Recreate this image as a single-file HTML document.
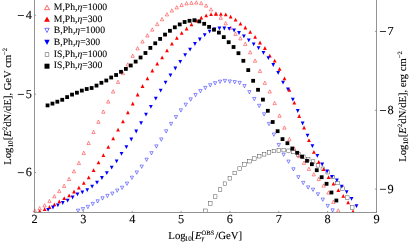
<!DOCTYPE html>
<html><head><meta charset="utf-8"><title>plot</title>
<style>
html,body{margin:0;padding:0;background:#fff;}
body{width:411px;height:244px;overflow:hidden;position:relative;}
svg{display:block;position:absolute;left:0;top:0;will-change:transform;font-family:"Liberation Serif",serif;}
text{fill:#000;text-rendering:geometricPrecision;stroke:#000;stroke-width:0.1px;}
</style></head><body>
<svg width="411" height="244" viewBox="0 0 411 244">
<rect width="411" height="244" fill="#fff"/>
<defs><clipPath id="c"><rect x="0" y="0" width="411" height="212.2"/></clipPath></defs>
<g clip-path="url(#c)">
<g><path d="M33.14 212.15L36.44 212.15L34.79 208.85Z" fill="none" stroke="#f00" stroke-width="0.45"/><path d="M38.04 209.85L41.34 209.85L39.69 206.55Z" fill="none" stroke="#f00" stroke-width="0.45"/><path d="M42.93 206.95L46.23 206.95L44.58 203.65Z" fill="none" stroke="#f00" stroke-width="0.45"/><path d="M47.83 202.65L51.13 202.65L49.48 199.35Z" fill="none" stroke="#f00" stroke-width="0.45"/><path d="M52.72 197.85L56.02 197.85L54.37 194.55Z" fill="none" stroke="#f00" stroke-width="0.45"/><path d="M57.62 192.65L60.92 192.65L59.27 189.35Z" fill="none" stroke="#f00" stroke-width="0.45"/><path d="M62.51 187.45L65.81 187.45L64.16 184.15Z" fill="none" stroke="#f00" stroke-width="0.45"/><path d="M67.41 180.55L70.71 180.55L69.06 177.25Z" fill="none" stroke="#f00" stroke-width="0.45"/><path d="M72.30 172.85L75.60 172.85L73.95 169.55Z" fill="none" stroke="#f00" stroke-width="0.45"/><path d="M77.20 164.55L80.50 164.55L78.85 161.25Z" fill="none" stroke="#f00" stroke-width="0.45"/><path d="M82.09 154.45L85.39 154.45L83.74 151.15Z" fill="none" stroke="#f00" stroke-width="0.45"/><path d="M86.99 144.55L90.29 144.55L88.64 141.25Z" fill="none" stroke="#f00" stroke-width="0.45"/><path d="M91.88 133.55L95.18 133.55L93.53 130.25Z" fill="none" stroke="#f00" stroke-width="0.45"/><path d="M96.78 123.35L100.08 123.35L98.43 120.05Z" fill="none" stroke="#f00" stroke-width="0.45"/><path d="M101.67 113.25L104.97 113.25L103.32 109.95Z" fill="none" stroke="#f00" stroke-width="0.45"/><path d="M106.57 103.15L109.87 103.15L108.22 99.85Z" fill="none" stroke="#f00" stroke-width="0.45"/><path d="M111.46 93.05L114.76 93.05L113.11 89.75Z" fill="none" stroke="#f00" stroke-width="0.45"/><path d="M116.36 83.45L119.66 83.45L118.01 80.15Z" fill="none" stroke="#f00" stroke-width="0.45"/><path d="M121.25 74.65L124.55 74.65L122.90 71.35Z" fill="none" stroke="#f00" stroke-width="0.45"/><path d="M126.15 66.05L129.45 66.05L127.80 62.75Z" fill="none" stroke="#f00" stroke-width="0.45"/><path d="M131.04 57.35L134.34 57.35L132.69 54.05Z" fill="none" stroke="#f00" stroke-width="0.45"/><path d="M135.94 49.95L139.24 49.95L137.59 46.65Z" fill="none" stroke="#f00" stroke-width="0.45"/><path d="M140.83 43.05L144.13 43.05L142.48 39.75Z" fill="none" stroke="#f00" stroke-width="0.45"/><path d="M145.73 37.05L149.03 37.05L147.38 33.75Z" fill="none" stroke="#f00" stroke-width="0.45"/><path d="M150.62 31.15L153.92 31.15L152.27 27.85Z" fill="none" stroke="#f00" stroke-width="0.45"/><path d="M155.52 25.65L158.82 25.65L157.17 22.35Z" fill="none" stroke="#f00" stroke-width="0.45"/><path d="M160.41 20.75L163.71 20.75L162.06 17.45Z" fill="none" stroke="#f00" stroke-width="0.45"/><path d="M165.31 15.95L168.61 15.95L166.96 12.65Z" fill="none" stroke="#f00" stroke-width="0.45"/><path d="M170.20 12.05L173.50 12.05L171.85 8.75Z" fill="none" stroke="#f00" stroke-width="0.45"/><path d="M175.10 8.95L178.40 8.95L176.75 5.65Z" fill="none" stroke="#f00" stroke-width="0.45"/><path d="M179.99 6.55L183.29 6.55L181.64 3.25Z" fill="none" stroke="#f00" stroke-width="0.45"/><path d="M184.89 4.95L188.19 4.95L186.54 1.65Z" fill="none" stroke="#f00" stroke-width="0.45"/><path d="M189.78 4.45L193.08 4.45L191.43 1.15Z" fill="none" stroke="#f00" stroke-width="0.45"/><path d="M194.68 4.05L197.98 4.05L196.33 0.75Z" fill="none" stroke="#f00" stroke-width="0.45"/><path d="M199.57 4.75L202.87 4.75L201.22 1.45Z" fill="none" stroke="#f00" stroke-width="0.45"/><path d="M204.47 7.15L207.77 7.15L206.12 3.85Z" fill="none" stroke="#f00" stroke-width="0.45"/><path d="M209.36 10.95L212.66 10.95L211.01 7.65Z" fill="none" stroke="#f00" stroke-width="0.45"/><path d="M214.26 15.15L217.56 15.15L215.91 11.85Z" fill="none" stroke="#f00" stroke-width="0.45"/><path d="M219.15 19.35L222.45 19.35L220.80 16.05Z" fill="none" stroke="#f00" stroke-width="0.45"/><path d="M224.05 24.85L227.35 24.85L225.70 21.55Z" fill="none" stroke="#f00" stroke-width="0.45"/><path d="M228.94 29.35L232.24 29.35L230.59 26.05Z" fill="none" stroke="#f00" stroke-width="0.45"/><path d="M233.84 35.45L237.14 35.45L235.49 32.15Z" fill="none" stroke="#f00" stroke-width="0.45"/><path d="M238.73 39.95L242.03 39.95L240.38 36.65Z" fill="none" stroke="#f00" stroke-width="0.45"/><path d="M243.63 45.45L246.93 45.45L245.28 42.15Z" fill="none" stroke="#f00" stroke-width="0.45"/><path d="M248.52 53.85L251.82 53.85L250.17 50.55Z" fill="none" stroke="#f00" stroke-width="0.45"/><path d="M253.42 62.25L256.72 62.25L255.07 58.95Z" fill="none" stroke="#f00" stroke-width="0.45"/><path d="M258.31 72.45L261.61 72.45L259.96 69.15Z" fill="none" stroke="#f00" stroke-width="0.45"/><path d="M263.21 84.35L266.51 84.35L264.86 81.05Z" fill="none" stroke="#f00" stroke-width="0.45"/><path d="M268.10 93.05L271.40 93.05L269.75 89.75Z" fill="none" stroke="#f00" stroke-width="0.45"/><path d="M273.00 104.65L276.30 104.65L274.65 101.35Z" fill="none" stroke="#f00" stroke-width="0.45"/><path d="M277.89 117.25L281.19 117.25L279.54 113.95Z" fill="none" stroke="#f00" stroke-width="0.45"/><path d="M282.79 129.15L286.09 129.15L284.44 125.85Z" fill="none" stroke="#f00" stroke-width="0.45"/><path d="M287.68 140.75L290.98 140.75L289.33 137.45Z" fill="none" stroke="#f00" stroke-width="0.45"/><path d="M292.58 150.15L295.88 150.15L294.23 146.85Z" fill="none" stroke="#f00" stroke-width="0.45"/><path d="M297.47 157.65L300.77 157.65L299.12 154.35Z" fill="none" stroke="#f00" stroke-width="0.45"/><path d="M302.37 164.35L305.67 164.35L304.02 161.05Z" fill="none" stroke="#f00" stroke-width="0.45"/><path d="M307.26 170.45L310.56 170.45L308.91 167.15Z" fill="none" stroke="#f00" stroke-width="0.45"/><path d="M312.16 175.95L315.46 175.95L313.81 172.65Z" fill="none" stroke="#f00" stroke-width="0.45"/><path d="M317.05 180.55L320.35 180.55L318.70 177.25Z" fill="none" stroke="#f00" stroke-width="0.45"/><path d="M321.95 187.15L325.25 187.15L323.60 183.85Z" fill="none" stroke="#f00" stroke-width="0.45"/><path d="M326.84 194.15L330.14 194.15L328.49 190.85Z" fill="none" stroke="#f00" stroke-width="0.45"/><path d="M331.74 203.45L335.04 203.45L333.39 200.15Z" fill="none" stroke="#f00" stroke-width="0.45"/><path d="M336.63 212.05L339.93 212.05L338.28 208.75Z" fill="none" stroke="#f00" stroke-width="0.45"/></g>
<g><path d="M76.42 209.15L79.72 209.15L78.07 212.45Z" fill="none" stroke="#00f" stroke-width="0.45"/><path d="M81.32 207.55L84.62 207.55L82.97 210.85Z" fill="none" stroke="#00f" stroke-width="0.45"/><path d="M86.21 205.35L89.51 205.35L87.86 208.65Z" fill="none" stroke="#00f" stroke-width="0.45"/><path d="M91.11 202.35L94.41 202.35L92.76 205.65Z" fill="none" stroke="#00f" stroke-width="0.45"/><path d="M96.00 199.75L99.30 199.75L97.65 203.05Z" fill="none" stroke="#00f" stroke-width="0.45"/><path d="M100.90 196.75L104.20 196.75L102.55 200.05Z" fill="none" stroke="#00f" stroke-width="0.45"/><path d="M105.79 194.35L109.09 194.35L107.44 197.65Z" fill="none" stroke="#00f" stroke-width="0.45"/><path d="M110.69 192.05L113.99 192.05L112.34 195.35Z" fill="none" stroke="#00f" stroke-width="0.45"/><path d="M115.58 189.05L118.88 189.05L117.23 192.35Z" fill="none" stroke="#00f" stroke-width="0.45"/><path d="M120.48 186.15L123.78 186.15L122.13 189.45Z" fill="none" stroke="#00f" stroke-width="0.45"/><path d="M125.37 182.05L128.67 182.05L127.02 185.35Z" fill="none" stroke="#00f" stroke-width="0.45"/><path d="M130.27 176.15L133.57 176.15L131.92 179.45Z" fill="none" stroke="#00f" stroke-width="0.45"/><path d="M135.16 170.95L138.46 170.95L136.81 174.25Z" fill="none" stroke="#00f" stroke-width="0.45"/><path d="M140.06 165.05L143.36 165.05L141.71 168.35Z" fill="none" stroke="#00f" stroke-width="0.45"/><path d="M144.95 158.15L148.25 158.15L146.60 161.45Z" fill="none" stroke="#00f" stroke-width="0.45"/><path d="M149.85 151.65L153.15 151.65L151.50 154.95Z" fill="none" stroke="#00f" stroke-width="0.45"/><path d="M154.74 144.85L158.04 144.85L156.39 148.15Z" fill="none" stroke="#00f" stroke-width="0.45"/><path d="M159.64 137.95L162.94 137.95L161.29 141.25Z" fill="none" stroke="#00f" stroke-width="0.45"/><path d="M164.53 129.75L167.83 129.75L166.18 133.05Z" fill="none" stroke="#00f" stroke-width="0.45"/><path d="M169.43 122.35L172.73 122.35L171.08 125.65Z" fill="none" stroke="#00f" stroke-width="0.45"/><path d="M174.32 115.55L177.62 115.55L175.97 118.85Z" fill="none" stroke="#00f" stroke-width="0.45"/><path d="M179.22 108.75L182.52 108.75L180.87 112.05Z" fill="none" stroke="#00f" stroke-width="0.45"/><path d="M184.11 103.15L187.41 103.15L185.76 106.45Z" fill="none" stroke="#00f" stroke-width="0.45"/><path d="M189.01 97.85L192.31 97.85L190.66 101.15Z" fill="none" stroke="#00f" stroke-width="0.45"/><path d="M193.90 93.45L197.20 93.45L195.55 96.75Z" fill="none" stroke="#00f" stroke-width="0.45"/><path d="M198.80 89.55L202.10 89.55L200.45 92.85Z" fill="none" stroke="#00f" stroke-width="0.45"/><path d="M203.69 86.35L206.99 86.35L205.34 89.65Z" fill="none" stroke="#00f" stroke-width="0.45"/><path d="M208.59 83.65L211.89 83.65L210.24 86.95Z" fill="none" stroke="#00f" stroke-width="0.45"/><path d="M213.48 81.65L216.78 81.65L215.13 84.95Z" fill="none" stroke="#00f" stroke-width="0.45"/><path d="M218.38 80.15L221.68 80.15L220.03 83.45Z" fill="none" stroke="#00f" stroke-width="0.45"/><path d="M223.27 79.35L226.57 79.35L224.92 82.65Z" fill="none" stroke="#00f" stroke-width="0.45"/><path d="M228.17 79.95L231.47 79.95L229.82 83.25Z" fill="none" stroke="#00f" stroke-width="0.45"/><path d="M233.06 80.55L236.36 80.55L234.71 83.85Z" fill="none" stroke="#00f" stroke-width="0.45"/><path d="M237.96 81.35L241.26 81.35L239.61 84.65Z" fill="none" stroke="#00f" stroke-width="0.45"/><path d="M242.85 84.55L246.15 84.55L244.50 87.85Z" fill="none" stroke="#00f" stroke-width="0.45"/><path d="M247.75 90.55L251.05 90.55L249.40 93.85Z" fill="none" stroke="#00f" stroke-width="0.45"/><path d="M252.64 97.45L255.94 97.45L254.29 100.75Z" fill="none" stroke="#00f" stroke-width="0.45"/><path d="M257.54 104.25L260.84 104.25L259.19 107.55Z" fill="none" stroke="#00f" stroke-width="0.45"/><path d="M262.43 112.75L265.73 112.75L264.08 116.05Z" fill="none" stroke="#00f" stroke-width="0.45"/><path d="M267.33 122.35L270.63 122.35L268.98 125.65Z" fill="none" stroke="#00f" stroke-width="0.45"/><path d="M272.22 133.05L275.52 133.05L273.87 136.35Z" fill="none" stroke="#00f" stroke-width="0.45"/><path d="M277.12 143.45L280.42 143.45L278.77 146.75Z" fill="none" stroke="#00f" stroke-width="0.45"/><path d="M282.01 153.15L285.31 153.15L283.66 156.45Z" fill="none" stroke="#00f" stroke-width="0.45"/><path d="M286.91 160.05L290.21 160.05L288.56 163.35Z" fill="none" stroke="#00f" stroke-width="0.45"/><path d="M291.80 167.75L295.10 167.75L293.45 171.05Z" fill="none" stroke="#00f" stroke-width="0.45"/><path d="M296.70 175.65L300.00 175.65L298.35 178.95Z" fill="none" stroke="#00f" stroke-width="0.45"/><path d="M301.59 181.35L304.89 181.35L303.24 184.65Z" fill="none" stroke="#00f" stroke-width="0.45"/><path d="M306.49 185.85L309.79 185.85L308.14 189.15Z" fill="none" stroke="#00f" stroke-width="0.45"/><path d="M311.38 188.15L314.68 188.15L313.03 191.45Z" fill="none" stroke="#00f" stroke-width="0.45"/><path d="M316.28 192.75L319.58 192.75L317.93 196.05Z" fill="none" stroke="#00f" stroke-width="0.45"/><path d="M321.17 198.05L324.47 198.05L322.82 201.35Z" fill="none" stroke="#00f" stroke-width="0.45"/><path d="M326.07 204.35L329.37 204.35L327.72 207.65Z" fill="none" stroke="#00f" stroke-width="0.45"/><path d="M330.96 208.75L334.26 208.75L332.61 212.05Z" fill="none" stroke="#00f" stroke-width="0.45"/></g>
<g><rect x="203.58" y="209.00" width="3.60" height="3.60" fill="none" stroke="#333" stroke-width="0.42"/><rect x="208.47" y="201.60" width="3.60" height="3.60" fill="none" stroke="#333" stroke-width="0.42"/><rect x="213.37" y="194.80" width="3.60" height="3.60" fill="none" stroke="#333" stroke-width="0.42"/><rect x="218.26" y="187.80" width="3.60" height="3.60" fill="none" stroke="#333" stroke-width="0.42"/><rect x="223.16" y="181.90" width="3.60" height="3.60" fill="none" stroke="#333" stroke-width="0.42"/><rect x="228.05" y="176.50" width="3.60" height="3.60" fill="none" stroke="#333" stroke-width="0.42"/><rect x="232.95" y="171.20" width="3.60" height="3.60" fill="none" stroke="#333" stroke-width="0.42"/><rect x="237.84" y="166.80" width="3.60" height="3.60" fill="none" stroke="#333" stroke-width="0.42"/><rect x="242.74" y="162.70" width="3.60" height="3.60" fill="none" stroke="#333" stroke-width="0.42"/><rect x="247.63" y="159.40" width="3.60" height="3.60" fill="none" stroke="#333" stroke-width="0.42"/><rect x="252.53" y="156.80" width="3.60" height="3.60" fill="none" stroke="#333" stroke-width="0.42"/><rect x="257.42" y="154.40" width="3.60" height="3.60" fill="none" stroke="#333" stroke-width="0.42"/><rect x="262.32" y="152.50" width="3.60" height="3.60" fill="none" stroke="#333" stroke-width="0.42"/><rect x="267.21" y="150.60" width="3.60" height="3.60" fill="none" stroke="#333" stroke-width="0.42"/><rect x="272.11" y="149.20" width="3.60" height="3.60" fill="none" stroke="#333" stroke-width="0.42"/><rect x="277.00" y="148.70" width="3.60" height="3.60" fill="none" stroke="#333" stroke-width="0.42"/><rect x="281.90" y="148.30" width="3.60" height="3.60" fill="none" stroke="#333" stroke-width="0.42"/><rect x="286.79" y="149.00" width="3.60" height="3.60" fill="none" stroke="#333" stroke-width="0.42"/><rect x="291.69" y="150.20" width="3.60" height="3.60" fill="none" stroke="#333" stroke-width="0.42"/><rect x="296.58" y="152.60" width="3.60" height="3.60" fill="none" stroke="#333" stroke-width="0.42"/><rect x="301.48" y="155.00" width="3.60" height="3.60" fill="none" stroke="#333" stroke-width="0.42"/><rect x="306.37" y="157.40" width="3.60" height="3.60" fill="none" stroke="#333" stroke-width="0.42"/><rect x="311.27" y="159.80" width="3.60" height="3.60" fill="none" stroke="#333" stroke-width="0.42"/><rect x="316.16" y="163.50" width="3.60" height="3.60" fill="none" stroke="#333" stroke-width="0.42"/><rect x="321.06" y="167.00" width="3.60" height="3.60" fill="none" stroke="#333" stroke-width="0.42"/><rect x="325.95" y="170.40" width="3.60" height="3.60" fill="none" stroke="#333" stroke-width="0.42"/><rect x="330.85" y="175.20" width="3.60" height="3.60" fill="none" stroke="#333" stroke-width="0.42"/><rect x="335.74" y="181.20" width="3.60" height="3.60" fill="none" stroke="#333" stroke-width="0.42"/><rect x="340.64" y="186.80" width="3.60" height="3.60" fill="none" stroke="#333" stroke-width="0.42"/><rect x="345.53" y="195.80" width="3.60" height="3.60" fill="none" stroke="#333" stroke-width="0.42"/><rect x="350.43" y="205.70" width="3.60" height="3.60" fill="none" stroke="#333" stroke-width="0.42"/></g>
<g><path d="M37.85 213.10L41.65 213.10L39.75 209.30Z" fill="#f00" stroke="none" stroke-width="0"/><path d="M42.75 211.10L46.55 211.10L44.65 207.30Z" fill="#f00" stroke="none" stroke-width="0"/><path d="M47.64 208.90L51.44 208.90L49.54 205.10Z" fill="#f00" stroke="none" stroke-width="0"/><path d="M52.54 206.30L56.34 206.30L54.44 202.50Z" fill="#f00" stroke="none" stroke-width="0"/><path d="M57.43 203.20L61.23 203.20L59.33 199.40Z" fill="#f00" stroke="none" stroke-width="0"/><path d="M62.33 200.00L66.13 200.00L64.23 196.20Z" fill="#f00" stroke="none" stroke-width="0"/><path d="M67.22 197.20L71.02 197.20L69.12 193.40Z" fill="#f00" stroke="none" stroke-width="0"/><path d="M72.12 193.40L75.92 193.40L74.02 189.60Z" fill="#f00" stroke="none" stroke-width="0"/><path d="M77.01 189.60L80.81 189.60L78.91 185.80Z" fill="#f00" stroke="none" stroke-width="0"/><path d="M81.91 184.80L85.71 184.80L83.81 181.00Z" fill="#f00" stroke="none" stroke-width="0"/><path d="M86.80 179.30L90.60 179.30L88.70 175.50Z" fill="#f00" stroke="none" stroke-width="0"/><path d="M91.70 172.10L95.50 172.10L93.60 168.30Z" fill="#f00" stroke="none" stroke-width="0"/><path d="M96.59 164.30L100.39 164.30L98.49 160.50Z" fill="#f00" stroke="none" stroke-width="0"/><path d="M101.49 157.00L105.29 157.00L103.39 153.20Z" fill="#f00" stroke="none" stroke-width="0"/><path d="M106.38 148.70L110.18 148.70L108.28 144.90Z" fill="#f00" stroke="none" stroke-width="0"/><path d="M111.28 140.20L115.08 140.20L113.18 136.40Z" fill="#f00" stroke="none" stroke-width="0"/><path d="M116.17 131.50L119.97 131.50L118.07 127.70Z" fill="#f00" stroke="none" stroke-width="0"/><path d="M121.07 123.20L124.87 123.20L122.97 119.40Z" fill="#f00" stroke="none" stroke-width="0"/><path d="M125.96 114.30L129.76 114.30L127.86 110.50Z" fill="#f00" stroke="none" stroke-width="0"/><path d="M130.86 105.40L134.66 105.40L132.76 101.60Z" fill="#f00" stroke="none" stroke-width="0"/><path d="M135.75 96.40L139.55 96.40L137.65 92.60Z" fill="#f00" stroke="none" stroke-width="0"/><path d="M140.65 87.90L144.45 87.90L142.55 84.10Z" fill="#f00" stroke="none" stroke-width="0"/><path d="M145.54 80.20L149.34 80.20L147.44 76.40Z" fill="#f00" stroke="none" stroke-width="0"/><path d="M150.44 72.40L154.24 72.40L152.34 68.60Z" fill="#f00" stroke="none" stroke-width="0"/><path d="M155.33 65.50L159.13 65.50L157.23 61.70Z" fill="#f00" stroke="none" stroke-width="0"/><path d="M160.23 59.20L164.03 59.20L162.13 55.40Z" fill="#f00" stroke="none" stroke-width="0"/><path d="M165.12 52.30L168.92 52.30L167.02 48.50Z" fill="#f00" stroke="none" stroke-width="0"/><path d="M170.02 45.50L173.82 45.50L171.92 41.70Z" fill="#f00" stroke="none" stroke-width="0"/><path d="M174.91 39.80L178.71 39.80L176.81 36.00Z" fill="#f00" stroke="none" stroke-width="0"/><path d="M179.81 34.70L183.61 34.70L181.71 30.90Z" fill="#f00" stroke="none" stroke-width="0"/><path d="M184.70 30.40L188.50 30.40L186.60 26.60Z" fill="#f00" stroke="none" stroke-width="0"/><path d="M189.60 26.30L193.40 26.30L191.50 22.50Z" fill="#f00" stroke="none" stroke-width="0"/><path d="M194.49 22.50L198.29 22.50L196.39 18.70Z" fill="#f00" stroke="none" stroke-width="0"/><path d="M199.39 19.60L203.19 19.60L201.29 15.80Z" fill="#f00" stroke="none" stroke-width="0"/><path d="M204.28 17.20L208.08 17.20L206.18 13.40Z" fill="#f00" stroke="none" stroke-width="0"/><path d="M209.18 16.00L212.98 16.00L211.08 12.20Z" fill="#f00" stroke="none" stroke-width="0"/><path d="M214.07 15.70L217.87 15.70L215.97 11.90Z" fill="#f00" stroke="none" stroke-width="0"/><path d="M218.97 15.80L222.77 15.80L220.87 12.00Z" fill="#f00" stroke="none" stroke-width="0"/><path d="M223.86 16.20L227.66 16.20L225.76 12.40Z" fill="#f00" stroke="none" stroke-width="0"/><path d="M228.76 18.60L232.56 18.60L230.66 14.80Z" fill="#f00" stroke="none" stroke-width="0"/><path d="M233.65 21.50L237.45 21.50L235.55 17.70Z" fill="#f00" stroke="none" stroke-width="0"/><path d="M238.55 25.50L242.35 25.50L240.45 21.70Z" fill="#f00" stroke="none" stroke-width="0"/><path d="M243.44 29.40L247.24 29.40L245.34 25.60Z" fill="#f00" stroke="none" stroke-width="0"/><path d="M248.34 33.70L252.14 33.70L250.24 29.90Z" fill="#f00" stroke="none" stroke-width="0"/><path d="M253.23 38.80L257.03 38.80L255.13 35.00Z" fill="#f00" stroke="none" stroke-width="0"/><path d="M258.13 44.40L261.93 44.40L260.03 40.60Z" fill="#f00" stroke="none" stroke-width="0"/><path d="M263.02 49.90L266.82 49.90L264.92 46.10Z" fill="#f00" stroke="none" stroke-width="0"/><path d="M267.92 57.60L271.72 57.60L269.82 53.80Z" fill="#f00" stroke="none" stroke-width="0"/><path d="M272.81 62.50L276.61 62.50L274.71 58.70Z" fill="#f00" stroke="none" stroke-width="0"/><path d="M277.71 70.80L281.51 70.80L279.61 67.00Z" fill="#f00" stroke="none" stroke-width="0"/><path d="M282.60 80.20L286.40 80.20L284.50 76.40Z" fill="#f00" stroke="none" stroke-width="0"/><path d="M287.50 91.70L291.30 91.70L289.40 87.90Z" fill="#f00" stroke="none" stroke-width="0"/><path d="M292.39 104.50L296.19 104.50L294.29 100.70Z" fill="#f00" stroke="none" stroke-width="0"/><path d="M297.29 117.90L301.09 117.90L299.19 114.10Z" fill="#f00" stroke="none" stroke-width="0"/><path d="M302.18 129.40L305.98 129.40L304.08 125.60Z" fill="#f00" stroke="none" stroke-width="0"/><path d="M307.08 142.10L310.88 142.10L308.98 138.30Z" fill="#f00" stroke="none" stroke-width="0"/><path d="M311.97 153.70L315.77 153.70L313.87 149.90Z" fill="#f00" stroke="none" stroke-width="0"/><path d="M316.87 163.70L320.67 163.70L318.77 159.90Z" fill="#f00" stroke="none" stroke-width="0"/><path d="M321.76 171.10L325.56 171.10L323.66 167.30Z" fill="#f00" stroke="none" stroke-width="0"/><path d="M326.66 179.10L330.46 179.10L328.56 175.30Z" fill="#f00" stroke="none" stroke-width="0"/><path d="M331.55 185.50L335.35 185.50L333.45 181.70Z" fill="#f00" stroke="none" stroke-width="0"/><path d="M336.45 192.00L340.25 192.00L338.35 188.20Z" fill="#f00" stroke="none" stroke-width="0"/><path d="M341.34 197.70L345.14 197.70L343.24 193.90Z" fill="#f00" stroke="none" stroke-width="0"/><path d="M346.24 204.30L350.04 204.30L348.14 200.50Z" fill="#f00" stroke="none" stroke-width="0"/><path d="M351.13 213.20L354.93 213.20L353.03 209.40Z" fill="#f00" stroke="none" stroke-width="0"/></g>
<g><path d="M46.19 208.00L49.99 208.00L48.09 211.80Z" fill="#00f" stroke="none" stroke-width="0"/><path d="M51.09 205.60L54.89 205.60L52.99 209.40Z" fill="#00f" stroke="none" stroke-width="0"/><path d="M55.98 203.40L59.78 203.40L57.88 207.20Z" fill="#00f" stroke="none" stroke-width="0"/><path d="M60.88 201.10L64.68 201.10L62.78 204.90Z" fill="#00f" stroke="none" stroke-width="0"/><path d="M65.77 198.70L69.57 198.70L67.67 202.50Z" fill="#00f" stroke="none" stroke-width="0"/><path d="M70.67 195.60L74.47 195.60L72.57 199.40Z" fill="#00f" stroke="none" stroke-width="0"/><path d="M75.56 192.50L79.36 192.50L77.46 196.30Z" fill="#00f" stroke="none" stroke-width="0"/><path d="M80.46 190.50L84.26 190.50L82.36 194.30Z" fill="#00f" stroke="none" stroke-width="0"/><path d="M85.35 188.20L89.15 188.20L87.25 192.00Z" fill="#00f" stroke="none" stroke-width="0"/><path d="M90.25 184.80L94.05 184.80L92.15 188.60Z" fill="#00f" stroke="none" stroke-width="0"/><path d="M95.14 180.70L98.94 180.70L97.04 184.50Z" fill="#00f" stroke="none" stroke-width="0"/><path d="M100.04 176.10L103.84 176.10L101.94 179.90Z" fill="#00f" stroke="none" stroke-width="0"/><path d="M104.93 171.30L108.73 171.30L106.83 175.10Z" fill="#00f" stroke="none" stroke-width="0"/><path d="M109.83 165.80L113.63 165.80L111.73 169.60Z" fill="#00f" stroke="none" stroke-width="0"/><path d="M114.72 159.40L118.52 159.40L116.62 163.20Z" fill="#00f" stroke="none" stroke-width="0"/><path d="M119.62 152.00L123.42 152.00L121.52 155.80Z" fill="#00f" stroke="none" stroke-width="0"/><path d="M124.51 145.20L128.31 145.20L126.41 149.00Z" fill="#00f" stroke="none" stroke-width="0"/><path d="M129.41 137.60L133.21 137.60L131.31 141.40Z" fill="#00f" stroke="none" stroke-width="0"/><path d="M134.30 129.60L138.10 129.60L136.20 133.40Z" fill="#00f" stroke="none" stroke-width="0"/><path d="M139.20 121.30L143.00 121.30L141.10 125.10Z" fill="#00f" stroke="none" stroke-width="0"/><path d="M144.09 112.70L147.89 112.70L145.99 116.50Z" fill="#00f" stroke="none" stroke-width="0"/><path d="M148.99 104.90L152.79 104.90L150.89 108.70Z" fill="#00f" stroke="none" stroke-width="0"/><path d="M153.88 96.80L157.68 96.80L155.78 100.60Z" fill="#00f" stroke="none" stroke-width="0"/><path d="M158.78 88.70L162.58 88.70L160.68 92.50Z" fill="#00f" stroke="none" stroke-width="0"/><path d="M163.67 80.70L167.47 80.70L165.57 84.50Z" fill="#00f" stroke="none" stroke-width="0"/><path d="M168.57 73.50L172.37 73.50L170.47 77.30Z" fill="#00f" stroke="none" stroke-width="0"/><path d="M173.46 66.60L177.26 66.60L175.36 70.40Z" fill="#00f" stroke="none" stroke-width="0"/><path d="M178.36 59.90L182.16 59.90L180.26 63.70Z" fill="#00f" stroke="none" stroke-width="0"/><path d="M183.25 53.30L187.05 53.30L185.15 57.10Z" fill="#00f" stroke="none" stroke-width="0"/><path d="M188.15 47.80L191.95 47.80L190.05 51.60Z" fill="#00f" stroke="none" stroke-width="0"/><path d="M193.04 42.10L196.84 42.10L194.94 45.90Z" fill="#00f" stroke="none" stroke-width="0"/><path d="M197.94 37.60L201.74 37.60L199.84 41.40Z" fill="#00f" stroke="none" stroke-width="0"/><path d="M202.83 33.30L206.63 33.30L204.73 37.10Z" fill="#00f" stroke="none" stroke-width="0"/><path d="M207.73 29.80L211.53 29.80L209.63 33.60Z" fill="#00f" stroke="none" stroke-width="0"/><path d="M212.62 27.60L216.42 27.60L214.52 31.40Z" fill="#00f" stroke="none" stroke-width="0"/><path d="M217.52 26.60L221.32 26.60L219.42 30.40Z" fill="#00f" stroke="none" stroke-width="0"/><path d="M222.41 26.60L226.21 26.60L224.31 30.40Z" fill="#00f" stroke="none" stroke-width="0"/><path d="M227.31 27.00L231.11 27.00L229.21 30.80Z" fill="#00f" stroke="none" stroke-width="0"/><path d="M232.20 28.60L236.00 28.60L234.10 32.40Z" fill="#00f" stroke="none" stroke-width="0"/><path d="M237.10 31.10L240.90 31.10L239.00 34.90Z" fill="#00f" stroke="none" stroke-width="0"/><path d="M241.99 34.40L245.79 34.40L243.89 38.20Z" fill="#00f" stroke="none" stroke-width="0"/><path d="M246.89 38.50L250.69 38.50L248.79 42.30Z" fill="#00f" stroke="none" stroke-width="0"/><path d="M251.78 42.50L255.58 42.50L253.68 46.30Z" fill="#00f" stroke="none" stroke-width="0"/><path d="M256.68 46.20L260.48 46.20L258.58 50.00Z" fill="#00f" stroke="none" stroke-width="0"/><path d="M261.57 50.90L265.37 50.90L263.47 54.70Z" fill="#00f" stroke="none" stroke-width="0"/><path d="M266.47 56.20L270.27 56.20L268.37 60.00Z" fill="#00f" stroke="none" stroke-width="0"/><path d="M271.36 63.10L275.16 63.10L273.26 66.90Z" fill="#00f" stroke="none" stroke-width="0"/><path d="M276.26 70.90L280.06 70.90L278.16 74.70Z" fill="#00f" stroke="none" stroke-width="0"/><path d="M281.15 80.80L284.95 80.80L283.05 84.60Z" fill="#00f" stroke="none" stroke-width="0"/><path d="M286.05 87.50L289.85 87.50L287.95 91.30Z" fill="#00f" stroke="none" stroke-width="0"/><path d="M290.94 97.70L294.74 97.70L292.84 101.50Z" fill="#00f" stroke="none" stroke-width="0"/><path d="M295.84 109.10L299.64 109.10L297.74 112.90Z" fill="#00f" stroke="none" stroke-width="0"/><path d="M300.73 121.60L304.53 121.60L302.63 125.40Z" fill="#00f" stroke="none" stroke-width="0"/><path d="M305.63 133.80L309.43 133.80L307.53 137.60Z" fill="#00f" stroke="none" stroke-width="0"/><path d="M310.52 144.20L314.32 144.20L312.42 148.00Z" fill="#00f" stroke="none" stroke-width="0"/><path d="M315.42 153.90L319.22 153.90L317.32 157.70Z" fill="#00f" stroke="none" stroke-width="0"/><path d="M320.31 162.60L324.11 162.60L322.21 166.40Z" fill="#00f" stroke="none" stroke-width="0"/><path d="M325.21 169.60L329.01 169.60L327.11 173.40Z" fill="#00f" stroke="none" stroke-width="0"/><path d="M330.10 175.00L333.90 175.00L332.00 178.80Z" fill="#00f" stroke="none" stroke-width="0"/><path d="M335.00 178.40L338.80 178.40L336.90 182.20Z" fill="#00f" stroke="none" stroke-width="0"/><path d="M339.89 184.70L343.69 184.70L341.79 188.50Z" fill="#00f" stroke="none" stroke-width="0"/><path d="M344.79 190.30L348.59 190.30L346.69 194.10Z" fill="#00f" stroke="none" stroke-width="0"/><path d="M349.68 197.00L353.48 197.00L351.58 200.80Z" fill="#00f" stroke="none" stroke-width="0"/><path d="M354.58 204.20L358.38 204.20L356.48 208.00Z" fill="#00f" stroke="none" stroke-width="0"/></g>
<g><rect x="45.65" y="103.50" width="3.80" height="3.80" fill="#000" stroke="none" stroke-width="0"/><rect x="50.55" y="101.70" width="3.80" height="3.80" fill="#000" stroke="none" stroke-width="0"/><rect x="55.44" y="99.80" width="3.80" height="3.80" fill="#000" stroke="none" stroke-width="0"/><rect x="60.34" y="97.90" width="3.80" height="3.80" fill="#000" stroke="none" stroke-width="0"/><rect x="65.23" y="95.20" width="3.80" height="3.80" fill="#000" stroke="none" stroke-width="0"/><rect x="70.13" y="92.70" width="3.80" height="3.80" fill="#000" stroke="none" stroke-width="0"/><rect x="75.02" y="90.80" width="3.80" height="3.80" fill="#000" stroke="none" stroke-width="0"/><rect x="79.92" y="88.70" width="3.80" height="3.80" fill="#000" stroke="none" stroke-width="0"/><rect x="84.81" y="87.10" width="3.80" height="3.80" fill="#000" stroke="none" stroke-width="0"/><rect x="89.71" y="86.10" width="3.80" height="3.80" fill="#000" stroke="none" stroke-width="0"/><rect x="94.60" y="83.70" width="3.80" height="3.80" fill="#000" stroke="none" stroke-width="0"/><rect x="99.50" y="80.90" width="3.80" height="3.80" fill="#000" stroke="none" stroke-width="0"/><rect x="104.39" y="78.60" width="3.80" height="3.80" fill="#000" stroke="none" stroke-width="0"/><rect x="109.29" y="75.60" width="3.80" height="3.80" fill="#000" stroke="none" stroke-width="0"/><rect x="114.18" y="73.10" width="3.80" height="3.80" fill="#000" stroke="none" stroke-width="0"/><rect x="119.08" y="69.90" width="3.80" height="3.80" fill="#000" stroke="none" stroke-width="0"/><rect x="123.97" y="67.00" width="3.80" height="3.80" fill="#000" stroke="none" stroke-width="0"/><rect x="128.87" y="63.60" width="3.80" height="3.80" fill="#000" stroke="none" stroke-width="0"/><rect x="133.76" y="59.70" width="3.80" height="3.80" fill="#000" stroke="none" stroke-width="0"/><rect x="138.66" y="55.60" width="3.80" height="3.80" fill="#000" stroke="none" stroke-width="0"/><rect x="143.55" y="51.10" width="3.80" height="3.80" fill="#000" stroke="none" stroke-width="0"/><rect x="148.45" y="46.00" width="3.80" height="3.80" fill="#000" stroke="none" stroke-width="0"/><rect x="153.34" y="41.40" width="3.80" height="3.80" fill="#000" stroke="none" stroke-width="0"/><rect x="158.24" y="37.00" width="3.80" height="3.80" fill="#000" stroke="none" stroke-width="0"/><rect x="163.13" y="32.70" width="3.80" height="3.80" fill="#000" stroke="none" stroke-width="0"/><rect x="168.03" y="28.90" width="3.80" height="3.80" fill="#000" stroke="none" stroke-width="0"/><rect x="172.92" y="25.40" width="3.80" height="3.80" fill="#000" stroke="none" stroke-width="0"/><rect x="177.82" y="22.50" width="3.80" height="3.80" fill="#000" stroke="none" stroke-width="0"/><rect x="182.71" y="20.10" width="3.80" height="3.80" fill="#000" stroke="none" stroke-width="0"/><rect x="187.61" y="18.90" width="3.80" height="3.80" fill="#000" stroke="none" stroke-width="0"/><rect x="192.50" y="18.30" width="3.80" height="3.80" fill="#000" stroke="none" stroke-width="0"/><rect x="197.40" y="19.50" width="3.80" height="3.80" fill="#000" stroke="none" stroke-width="0"/><rect x="202.29" y="21.90" width="3.80" height="3.80" fill="#000" stroke="none" stroke-width="0"/><rect x="207.19" y="25.00" width="3.80" height="3.80" fill="#000" stroke="none" stroke-width="0"/><rect x="212.08" y="27.80" width="3.80" height="3.80" fill="#000" stroke="none" stroke-width="0"/><rect x="216.98" y="30.70" width="3.80" height="3.80" fill="#000" stroke="none" stroke-width="0"/><rect x="221.87" y="35.20" width="3.80" height="3.80" fill="#000" stroke="none" stroke-width="0"/><rect x="226.77" y="40.30" width="3.80" height="3.80" fill="#000" stroke="none" stroke-width="0"/><rect x="231.66" y="45.10" width="3.80" height="3.80" fill="#000" stroke="none" stroke-width="0"/><rect x="236.56" y="51.30" width="3.80" height="3.80" fill="#000" stroke="none" stroke-width="0"/><rect x="241.45" y="58.90" width="3.80" height="3.80" fill="#000" stroke="none" stroke-width="0"/><rect x="246.35" y="68.20" width="3.80" height="3.80" fill="#000" stroke="none" stroke-width="0"/><rect x="251.24" y="78.90" width="3.80" height="3.80" fill="#000" stroke="none" stroke-width="0"/><rect x="256.14" y="87.90" width="3.80" height="3.80" fill="#000" stroke="none" stroke-width="0"/><rect x="261.03" y="97.70" width="3.80" height="3.80" fill="#000" stroke="none" stroke-width="0"/><rect x="265.93" y="108.90" width="3.80" height="3.80" fill="#000" stroke="none" stroke-width="0"/><rect x="270.82" y="120.10" width="3.80" height="3.80" fill="#000" stroke="none" stroke-width="0"/><rect x="275.72" y="129.30" width="3.80" height="3.80" fill="#000" stroke="none" stroke-width="0"/><rect x="280.61" y="137.20" width="3.80" height="3.80" fill="#000" stroke="none" stroke-width="0"/><rect x="285.51" y="141.30" width="3.80" height="3.80" fill="#000" stroke="none" stroke-width="0"/><rect x="290.40" y="146.60" width="3.80" height="3.80" fill="#000" stroke="none" stroke-width="0"/><rect x="295.30" y="150.90" width="3.80" height="3.80" fill="#000" stroke="none" stroke-width="0"/><rect x="300.19" y="154.80" width="3.80" height="3.80" fill="#000" stroke="none" stroke-width="0"/><rect x="305.09" y="158.90" width="3.80" height="3.80" fill="#000" stroke="none" stroke-width="0"/><rect x="309.98" y="162.30" width="3.80" height="3.80" fill="#000" stroke="none" stroke-width="0"/><rect x="314.88" y="168.30" width="3.80" height="3.80" fill="#000" stroke="none" stroke-width="0"/><rect x="319.77" y="175.30" width="3.80" height="3.80" fill="#000" stroke="none" stroke-width="0"/><rect x="324.67" y="181.90" width="3.80" height="3.80" fill="#000" stroke="none" stroke-width="0"/><rect x="329.56" y="190.60" width="3.80" height="3.80" fill="#000" stroke="none" stroke-width="0"/><rect x="334.46" y="198.60" width="3.80" height="3.80" fill="#000" stroke="none" stroke-width="0"/></g>
</g>
<path d="M34.5 0V212.5H376.5V0" fill="none" stroke="#777" stroke-width="0.8"/>
<path d="M34.5 15.3h1.6" stroke="#777" stroke-width="0.7"/>
<rect x="17.8" y="15.05" width="6.1" height="0.85" fill="#111"/>
<text x="32.0" y="19.10" font-size="12.3" text-anchor="end">4</text>
<path d="M34.5 94.2h1.6" stroke="#777" stroke-width="0.7"/>
<rect x="17.8" y="93.95" width="6.1" height="0.85" fill="#111"/>
<text x="32.0" y="98.00" font-size="12.3" text-anchor="end">5</text>
<path d="M34.5 172.5h1.6" stroke="#777" stroke-width="0.7"/>
<rect x="17.8" y="172.25" width="6.1" height="0.85" fill="#111"/>
<text x="32.0" y="176.30" font-size="12.3" text-anchor="end">6</text>
<path d="M376.5 31.4h-1.6" stroke="#777" stroke-width="0.7"/>
<rect x="379.9" y="31.15" width="6.1" height="0.85" fill="#111"/>
<text x="387.5" y="35.20" font-size="12.3">7</text>
<path d="M376.5 110.3h-1.6" stroke="#777" stroke-width="0.7"/>
<rect x="379.9" y="110.05" width="6.1" height="0.85" fill="#111"/>
<text x="387.5" y="114.10" font-size="12.3">8</text>
<path d="M376.5 189.1h-1.6" stroke="#777" stroke-width="0.7"/>
<rect x="379.9" y="188.85" width="6.1" height="0.85" fill="#111"/>
<text x="387.5" y="192.90" font-size="12.3">9</text>
<path d="M34.50 212.5v-1.6" stroke="#777" stroke-width="0.7"/>
<text x="34.50" y="223.1" font-size="12.3" text-anchor="middle">2</text>
<path d="M83.36 212.5v-1.6" stroke="#777" stroke-width="0.7"/>
<text x="83.36" y="223.1" font-size="12.3" text-anchor="middle">3</text>
<path d="M132.21 212.5v-1.6" stroke="#777" stroke-width="0.7"/>
<text x="132.21" y="223.1" font-size="12.3" text-anchor="middle">4</text>
<path d="M181.07 212.5v-1.6" stroke="#777" stroke-width="0.7"/>
<text x="181.07" y="223.1" font-size="12.3" text-anchor="middle">5</text>
<path d="M229.93 212.5v-1.6" stroke="#777" stroke-width="0.7"/>
<text x="229.93" y="223.1" font-size="12.3" text-anchor="middle">6</text>
<path d="M278.79 212.5v-1.6" stroke="#777" stroke-width="0.7"/>
<text x="278.79" y="223.1" font-size="12.3" text-anchor="middle">7</text>
<path d="M327.64 212.5v-1.6" stroke="#777" stroke-width="0.7"/>
<text x="327.64" y="223.1" font-size="12.3" text-anchor="middle">8</text>
<path d="M376.50 212.5v-1.6" stroke="#777" stroke-width="0.7"/>
<text x="376.50" y="223.1" font-size="12.3" text-anchor="middle">9</text>
<text x="168.3" y="238.9" font-size="10.8">Log</text>
<text x="184.7" y="240.70000000000002" font-size="7.1">10</text>
<text x="191.3" y="238.9" font-size="10.8">[</text>
<text x="194.9" y="238.9" font-size="10.8" font-style="italic">E</text>
<text x="201.4" y="234.70000000000002" font-size="6.6">OBS</text>
<text x="201.6" y="240.3" font-size="6.5" font-style="italic">γ</text>
<text x="215.2" y="238.9" font-size="10.8">/GeV]</text>
<text transform="translate(10.9 164.8) rotate(-90)" font-size="10.6">Log<tspan font-size="7.1" dy="1.8" dx="0.2">10</tspan><tspan dy="-1.8" dx="0.1">[</tspan><tspan font-style="italic">E</tspan><tspan font-size="6.5" dy="-4.4" dx="0.3">2</tspan><tspan dy="4.4">dN/dE], GeV cm</tspan><tspan font-size="6.5" dy="-4.4">−2</tspan></text>
<text transform="translate(405.9 161.7) rotate(-90)" font-size="10.6">Log<tspan font-size="7.1" dy="1.8" dx="0.2">10</tspan><tspan dy="-1.8" dx="0.1">[</tspan><tspan font-style="italic">E</tspan><tspan font-size="6.5" dy="-4.4" dx="0.3">2</tspan><tspan dy="4.4">dN/dE], erg cm</tspan><tspan font-size="6.5" dy="-4.4">−2</tspan></text>
<path d="M44.50 9.70L49.50 9.70L47.00 5.30Z" fill="none" stroke="#f00" stroke-width="0.6"/>
<text x="53.8" y="9.8" font-size="9.7">M,Ph,<tspan font-style="italic">η</tspan>=1000</text>
<path d="M44.10 21.80L49.90 21.80L47.00 16.40Z" fill="#f00" stroke="none" stroke-width="0"/>
<text x="53.8" y="21.5" font-size="9.7">M,Ph,<tspan font-style="italic">η</tspan>=300</text>
<path d="M44.80 28.30L49.20 28.30L47.00 32.50Z" fill="none" stroke="#00f" stroke-width="0.55"/>
<text x="53.8" y="33.2" font-size="9.7">B,Ph,<tspan font-style="italic">η</tspan>=1000</text>
<path d="M44.30 39.80L49.70 39.80L47.00 45.00Z" fill="#00f" stroke="none" stroke-width="0"/>
<text x="53.8" y="44.9" font-size="9.7">B,Ph,<tspan font-style="italic">η</tspan>=300</text>
<rect x="45.10" y="52.80" width="3.80" height="3.80" fill="none" stroke="#333" stroke-width="0.45"/>
<text x="53.8" y="56.7" font-size="9.7">IS,Ph,<tspan font-style="italic">η</tspan>=1000</text>
<rect x="44.50" y="63.70" width="5.00" height="5.00" fill="#000" stroke="none" stroke-width="0"/>
<text x="53.8" y="68.4" font-size="9.7">IS,Ph,<tspan font-style="italic">η</tspan>=300</text>
</svg>
</body></html>
